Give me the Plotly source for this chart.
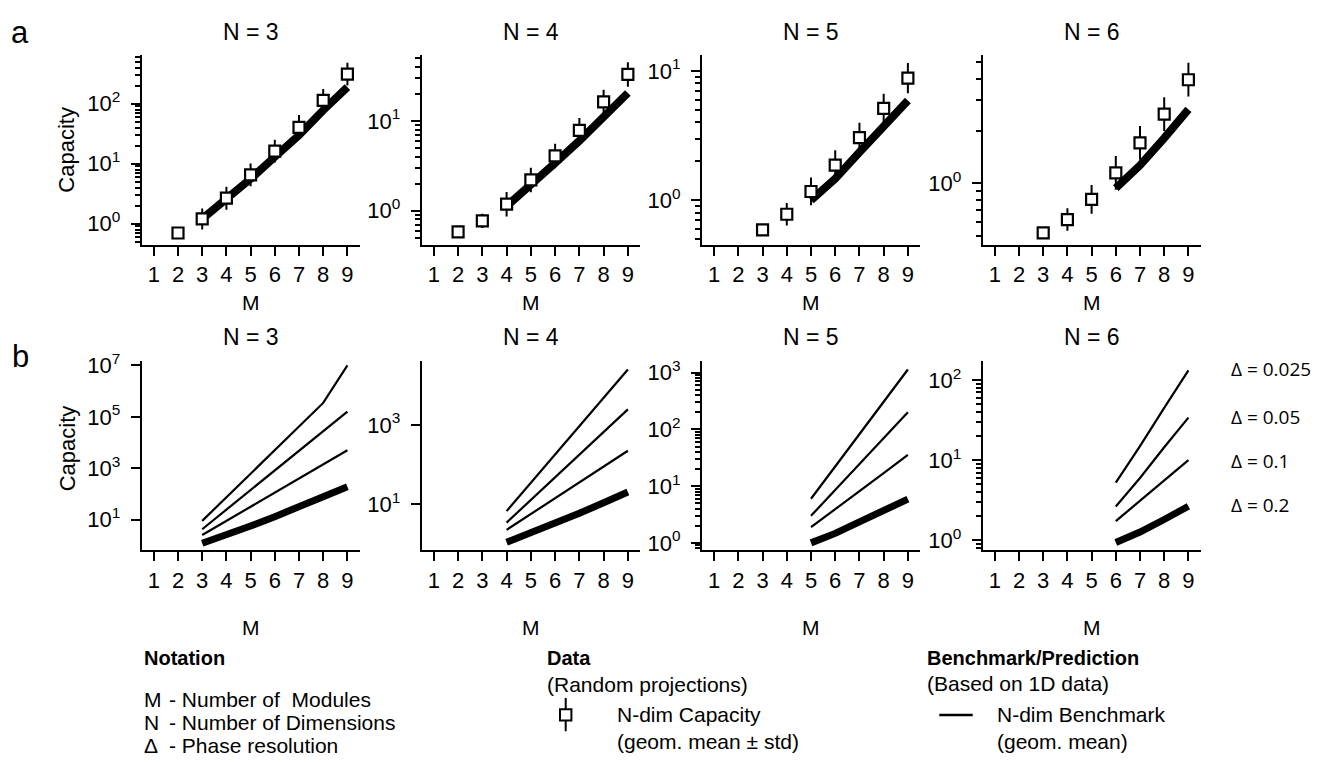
import numpy as np
import plotly.graph_objects as go

W, H = 1328, 762
FONT = "Liberation Sans, Arial, sans-serif"
DFONT = "Open Sans, Lato, sans-serif"

# ---------------- data ----------------
M_TICKS = [1, 2, 3, 4, 5, 6, 7, 8, 9]
N_VALUES = [3, 4, 5, 6]
DELTAS = ["0.025", "0.05", "0.1", "0.2"]

# Panel a: measured N-dim capacity (geometric mean) and geometric std factor
a3_M = [2, 3, 4, 5, 6, 7, 8, 9]
a3_cap = [0.70, 1.2, 2.66, 6.5, 16.2, 40.5, 114, 312]
a3_gstd = [1.12, 1.5, 1.55, 1.55, 1.55, 1.6, 1.55, 1.55]

a4_M = [2, 3, 4, 5, 6, 7, 8, 9]
a4_cap = [0.58, 0.77, 1.18, 2.2, 4.07, 7.85, 16.3, 33]
a4_gstd = [1.08, 1.2, 1.37, 1.37, 1.37, 1.37, 1.37, 1.37]

a5_M = [3, 4, 5, 6, 7, 8, 9]
a5_cap = [0.59, 0.78, 1.17, 1.87, 3.05, 5.13, 8.8]
a5_gstd = [1.05, 1.22, 1.28, 1.3, 1.3, 1.3, 1.31]

a6_M = [3, 4, 5, 6, 7, 8, 9]
a6_cap = [0.52, 0.62, 0.81, 1.15, 1.71, 2.5, 3.94]
a6_gstd = [1.03, 1.16, 1.21, 1.25, 1.25, 1.25, 1.25]

# Benchmark (Delta = 0.2), used in panels a and b
bench3_M = [3, 4, 5, 6, 7, 8, 9]
bench3 = [1.2, 2.5, 5.6, 13, 30, 78, 190]
bench4_M = [4, 5, 6, 7, 8, 9]
bench4 = [1.12, 1.9, 3.4, 6.0, 11, 20.5]
bench5_M = [5, 6, 7, 8, 9]
bench5 = [1.0, 1.47, 2.35, 3.75, 5.9]
bench6_M = [6, 7, 8, 9]
bench6 = [0.94, 1.27, 1.82, 2.66]

# Panel b: predictions for finer phase resolutions
b3_d0025 = [8.9, 74, 617, 5000, 41700, 347000, 1.0e7]
b3_d005 = [4.2, 24.5, 141, 830, 4800, 28000, 160000]
b3_d01 = [2.5, 8.9, 32, 113, 400, 1400, 5000]

b4_d0025 = [6.8, 35, 180, 930, 4800, 24500]
b4_d005 = [3.5, 13, 48, 178, 660, 2450]
b4_d01 = [2.3, 5.7, 14, 35, 89, 224]

b5_d0025 = [6.0, 22, 83, 310, 1140]
b5_d005 = [3.0, 8.5, 24, 70, 200]
b5_d01 = [1.89, 3.9, 8.2, 17, 35.7]

b6_d0025 = [5.25, 15, 45, 132]
b6_d005 = [2.65, 6.0, 14.5, 34]
b6_d01 = [1.74, 3.1, 5.6, 10]

# ---------------- layout constants ----------------
COL_PX = [(141.7, 359.5), (421.7, 640.0), (702.0, 920.0), (982.7, 1200.5)]
ROW_PX = [(44.5, 238.7), (357.3, 550.7)]
YRANGE_A = [[-0.35, 2.82], [-0.38, 1.74], [-0.343, 1.126], [-0.352, 0.74]]
YRANGE_B = [[-0.19, 7.18], [-0.148, 4.61], [-0.128, 3.21], [-0.122, 2.24]]
YMAJOR_A = [[0, 1, 2], [0, 1], [0, 1], [0]]
YMAJOR_B = [[1, 3, 5, 7], [1, 3], [0, 1, 2, 3], [0, 1, 2]]
MINOR_A = [True, True, True, True]
MINOR_B = [False, False, True, True]
TICK_FS = 22
TITLE_FS = 23
LEG_FS = 21


def fx(x):
    return x / W


def fy(y):
    return 1 - y / H


def minor_vals(rng):
    lo, hi = int(np.floor(rng[0])), int(np.ceil(rng[1]))
    vals = []
    for k in range(lo, hi + 1):
        for m in range(2, 10):
            v = m * 10.0 ** k
            if rng[0] <= np.log10(v) <= rng[1]:
                vals.append(v)
    return vals


fig = go.Figure()
layout = dict(
    width=W, height=H, margin=dict(l=0, r=0, t=0, b=0),
    paper_bgcolor="white", plot_bgcolor="white", showlegend=False,
    font=dict(family=FONT, size=21, color="black"),
)

a_M_list = [a3_M, a4_M, a5_M, a6_M]
a_cap_list = [a3_cap, a4_cap, a5_cap, a6_cap]
a_gstd_list = [a3_gstd, a4_gstd, a5_gstd, a6_gstd]
bench_M_list = [bench3_M, bench4_M, bench5_M, bench6_M]
bench_list = [bench3, bench4, bench5, bench6]
b_lists = [
    [b3_d0025, b3_d005, b3_d01],
    [b4_d0025, b4_d005, b4_d01],
    [b5_d0025, b5_d005, b5_d01],
    [b6_d0025, b6_d005, b6_d01],
]

annotations = []
shapes = []

for row in range(2):
    for col in range(4):
        idx = row * 4 + col + 1
        xname = "xaxis" if idx == 1 else f"xaxis{idx}"
        yname = "yaxis" if idx == 1 else f"yaxis{idx}"
        xref = "x" if idx == 1 else f"x{idx}"
        yref = "y" if idx == 1 else f"y{idx}"
        x0, x1 = COL_PX[col]
        y0, y1 = ROW_PX[row]
        yr = YRANGE_A[col] if row == 0 else YRANGE_B[col]
        majors = YMAJOR_A[col] if row == 0 else YMAJOR_B[col]
        has_minor = MINOR_A[col] if row == 0 else MINOR_B[col]

        layout[xname] = dict(
            domain=[fx(x0), fx(x1)], anchor=yref, range=[0.5, 9.5],
            tickmode="array", tickvals=M_TICKS, ticktext=[str(m) for m in M_TICKS],
            ticks="outside", ticklen=9, tickwidth=2, tickcolor="black",
            showline=True, linewidth=2, linecolor="black",
            showgrid=False, zeroline=False, ticklabelstandoff=0,
            tickfont=dict(family=FONT, size=TICK_FS, color="black"),
        )
        ydict = dict(
            domain=[fy(y1), fy(y0)], anchor=xref, type="log", range=yr,
            tickmode="array", tickvals=[10.0 ** k for k in majors],
            ticktext=[f"10<sup>{k}</sup>" for k in majors],
            ticks="outside", ticklen=9, tickwidth=2, tickcolor="black",
            showline=True, linewidth=2, linecolor="black",
            showgrid=False, zeroline=False, ticklabelstandoff=6,
            tickfont=dict(family=FONT, size=TICK_FS, color="black"),
        )
        if has_minor:
            ydict["minor"] = dict(tickmode="array", tickvals=minor_vals(yr),
                                  ticks="outside", ticklen=5, tickwidth=1.5,
                                  tickcolor="black", showgrid=False)
        layout[yname] = ydict

        if row == 0:
            fig.add_trace(go.Scatter(
                x=bench_M_list[col], y=bench_list[col], mode="lines",
                line=dict(color="black", width=8), xaxis=xref, yaxis=yref,
                hoverinfo="skip"))
            cap = np.array(a_cap_list[col])
            g = np.array(a_gstd_list[col])
            fig.add_trace(go.Scatter(
                x=a_M_list[col], y=cap, mode="markers",
                marker=dict(symbol="square", size=11, color="white",
                            line=dict(color="black", width=2.2)),
                error_y=dict(type="data", symmetric=False,
                             array=cap * g - cap, arrayminus=cap - cap / g,
                             color="black", thickness=2, width=0),
                xaxis=xref, yaxis=yref))
        else:
            for series in b_lists[col]:
                fig.add_trace(go.Scatter(
                    x=bench_M_list[col], y=series, mode="lines",
                    line=dict(color="black", width=2.2), xaxis=xref, yaxis=yref))
            fig.add_trace(go.Scatter(
                x=bench_M_list[col], y=bench_list[col], mode="lines",
                line=dict(color="black", width=7), xaxis=xref, yaxis=yref))

        # panel title
        title_y = 21.0 if row == 0 else 333.5
        annotations.append(dict(
            x=fx((x0 + x1) / 2), y=fy(title_y), xref="paper", yref="paper",
            text=f"N = {N_VALUES[col]}", showarrow=False, xanchor="center",
            yanchor="middle", font=dict(family=FONT, size=TITLE_FS)))
        # x-axis title
        m_y = 298 if row == 0 else 630
        annotations.append(dict(
            x=fx((x0 + x1) / 2), y=fy(m_y), xref="paper", yref="paper",
            text="M", showarrow=False, xanchor="center", yanchor="middle",
            font=dict(family=FONT, size=21)))

# y titles
for cy in [141.6, 446.7]:
    annotations.append(dict(
        x=fx(67), y=fy(cy), xref="paper", yref="paper", text="Capacity",
        textangle=-90, showarrow=False, xanchor="center", yanchor="middle",
        font=dict(family=FONT, size=22)))

# panel letters
annotations.append(dict(x=fx(19.5), y=fy(21.6), xref="paper", yref="paper",
                        text="a", showarrow=False, xanchor="center",
                        yanchor="middle", font=dict(family=FONT, size=31)))
annotations.append(dict(x=fx(20.5), y=fy(352.5), xref="paper", yref="paper",
                        text="b", showarrow=False, xanchor="center",
                        yanchor="middle", font=dict(family=FONT, size=31)))

# delta labels
for lab, cy in zip(DELTAS, [366, 414.3, 459.3, 505]):
    annotations.append(dict(
        x=fx(1229), y=fy(cy), xref="paper", yref="paper",
        text=f"\u0394 = {lab}", showarrow=False, xanchor="left",
        yanchor="middle", font=dict(family=DFONT, size=19)))


def text_at(x, y, s, size=LEG_FS):
    annotations.append(dict(x=fx(x), y=fy(y), xref="paper", yref="paper",
                            text=s, showarrow=False, xanchor="left",
                            yanchor="middle", font=dict(family=FONT, size=size)))


# Notation block
text_at(141.7, 661, "<b>Notation</b>", 20)
for sym, desc, cy in [("M", "- Number of  Modules", 703),
                      ("N", "- Number of Dimensions", 726.5),
                      ("\u0394", "- Phase resolution", 750)]:
    text_at(141.7, cy, sym)
    text_at(167, cy, desc)

# Data block
text_at(545, 661, "<b>Data</b>", 20)
text_at(545, 688, "(Random projections)")
text_at(615, 719, "N-dim Capacity")
text_at(615, 746, "(geom. mean \u00b1 std)")
shapes.append(dict(type="line", xref="paper", yref="paper",
                   x0=fx(565.7), x1=fx(565.7), y0=fy(701.7), y1=fy(735.7),
                   line=dict(color="black", width=2)))
shapes.append(dict(type="rect", xref="paper", yref="paper",
                   x0=fx(560), x1=fx(571.4), y0=fy(724.7), y1=fy(713.3),
                   fillcolor="white", line=dict(color="black", width=2)))

# Benchmark block
text_at(925, 661, "<b>Benchmark/Prediction</b>", 20)
text_at(925, 687, "(Based on 1D data)")
text_at(995, 719, "N-dim Benchmark")
text_at(995, 746, "(geom. mean)")
shapes.append(dict(type="line", xref="paper", yref="paper",
                   x0=fx(939.3), x1=fx(972.7), y0=fy(719), y1=fy(719),
                   line=dict(color="black", width=2.5)))

layout["annotations"] = annotations
layout["shapes"] = shapes
fig.update_layout(**layout)
fig.write_html("out.html")
